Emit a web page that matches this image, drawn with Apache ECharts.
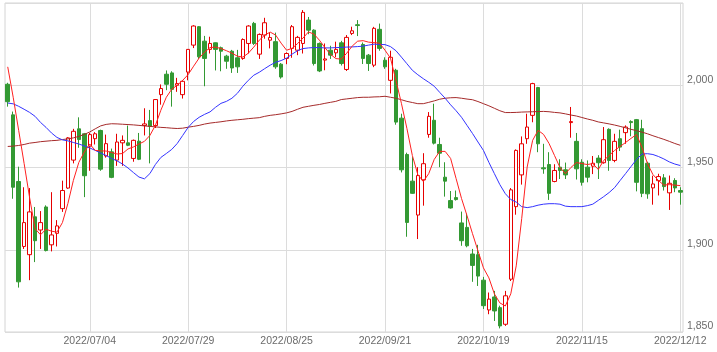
<!DOCTYPE html>
<html>
<head>
<meta charset="utf-8">
<script src="https://cdn.jsdelivr.net/npm/echarts@6/dist/echarts.min.js"></script>
<style>
html, body { margin: 0; padding: 0; background: #fff; }
#chart { width: 717px; height: 352px; }
</style>
</head>
<body>
<div id="chart"></div>
<script>
// trading days 2022/06/13 - 2022/12/12
const dates = [
  '2022/06/13','2022/06/14','2022/06/15','2022/06/16','2022/06/17','2022/06/20','2022/06/21','2022/06/22','2022/06/23','2022/06/24',
  '2022/06/27','2022/06/28','2022/06/29','2022/06/30','2022/07/01','2022/07/04','2022/07/05','2022/07/06','2022/07/07','2022/07/08',
  '2022/07/11','2022/07/12','2022/07/13','2022/07/14','2022/07/15','2022/07/19','2022/07/20','2022/07/21','2022/07/22','2022/07/25',
  '2022/07/26','2022/07/27','2022/07/28','2022/07/29','2022/08/01','2022/08/02','2022/08/03','2022/08/04','2022/08/05','2022/08/08',
  '2022/08/09','2022/08/10','2022/08/12','2022/08/15','2022/08/16','2022/08/17','2022/08/18','2022/08/19','2022/08/22','2022/08/23',
  '2022/08/24','2022/08/25','2022/08/26','2022/08/29','2022/08/30','2022/08/31','2022/09/01','2022/09/02','2022/09/05','2022/09/06',
  '2022/09/07','2022/09/08','2022/09/09','2022/09/12','2022/09/13','2022/09/14','2022/09/15','2022/09/16','2022/09/20','2022/09/21',
  '2022/09/22','2022/09/26','2022/09/27','2022/09/28','2022/09/29','2022/09/30','2022/10/03','2022/10/04','2022/10/05','2022/10/06',
  '2022/10/07','2022/10/11','2022/10/12','2022/10/13','2022/10/14','2022/10/17','2022/10/18','2022/10/19','2022/10/20','2022/10/21',
  '2022/10/24','2022/10/25','2022/10/26','2022/10/27','2022/10/28','2022/10/31','2022/11/01','2022/11/02','2022/11/04','2022/11/07',
  '2022/11/08','2022/11/09','2022/11/10','2022/11/11','2022/11/14','2022/11/15','2022/11/16','2022/11/17','2022/11/18','2022/11/21',
  '2022/11/22','2022/11/24','2022/11/25','2022/11/28','2022/11/29','2022/11/30','2022/12/01','2022/12/02','2022/12/05','2022/12/06',
  '2022/12/07','2022/12/08','2022/12/09','2022/12/12'
];

const opens = [
  2000.6,1982,1941.5,1902,1897,1920,1912,1926,1903,1910,
  1925,1937.5,1954.5,1973.5,1970.5,1963,1967.5,1972.5,1957,1959.5,
  1954.5,1965,1965,1955.5,1966,1975.5,1978.5,1975.5,1994.3,2006.7,
  2007.5,2000,1994.3,2008,2024.4,2035.6,2026.8,2021.8,2025.8,2022.8,
  2017.7,2020.7,2016.7,2016.3,2025.4,2037.6,2018.9,2030.5,2027.4,2026.5,
  2012.8,2016.3,2022.4,2021.3,2025.4,2039.6,2033.5,2025.4,2015.3,2021.3,
  2019.7,2025.8,2009.6,2031.5,2036.8,2024.8,2018.3,2012.2,2034,2015.2,
  2003,2009.1,1980,1957.9,1941.7,1921.1,1942.5,1970.1,1978.7,1964,
  1944.1,1929.9,1931.7,1916.3,1913.6,1897.4,1897,1881.5,1863.4,1871.3,
  1864.8,1854.7,1882.1,1926.2,1945.5,1967.5,1981.7,1998.6,1949.8,1951.8,
  1941.5,1950.2,1948.6,1977.3,1965.9,1953.2,1950.2,1950.8,1955.7,1952.9,
  1973.2,1954.3,1967.5,1971.2,1977.9,1979.1,1973.6,1952.6,1937.6,1942,
  1943.7,1934.6,1942.1,1936
];
const closes = [
  1990,1938,1880.5,1916.5,1923,1905.5,1916.5,1899.5,1909,1914.5,
  1936,1968,1972,1967,1945,1970,1970.5,1949,1964.5,1944,
  1965.5,1966.5,1963.5,1966.5,1955,1976.5,1975,1991.3,1998,2000.6,
  1997.5,2001,2002.4,2021.8,2036,2017.3,2016.3,2025.4,2021.8,2020.7,
  2014.6,2010.5,2011.2,2027.8,2036,2025.4,2030.9,2038,2029,2011.2,
  2005,2019.3,2035.6,2029.1,2044.3,2033.5,2013.2,2008.7,2016,2018.3,
  2021.8,2013.2,2029.1,2033.1,2036.3,2016.3,2013.2,2034.6,2022.4,2011.2,
  2017,1977.6,1948.6,1916.6,1934.3,1945.1,1952.3,1981.1,1964.8,1958.7,
  1941.7,1925.4,1930.5,1905.5,1902.4,1890.5,1884,1866,1870,1862.8,
  1853.7,1872,1936.4,1960.4,1964.4,1974.6,2001,1964.4,1949.2,1934.3,
  1948.2,1948.2,1945.5,1977.9,1949.2,1941,1944.1,1952.6,1952.9,1966.9,
  1954.3,1965.9,1962.4,1974.6,1977.3,1941,1934.3,1934,1940,1944.5,
  1938.4,1940.4,1937.6,1935
];
const lows = [
  1987,1931,1877,1900.5,1881.5,1892.5,1900.5,1899,1899,1902,
  1923,1937,1952.5,1962,1932,1948,1964,1948,1956,1943.5,
  1951,1951,1963,1953.5,1954.5,1969.5,1952.5,1974,1988.2,1997,
  1987,1996,1991.9,2003,2022.6,2016,1999.4,2019.3,2009,2008.5,
  2010,2007.5,2007.5,2015.5,2019.3,2024.5,2016,2028.3,2022.4,2010,
  2004,2012.8,2016.7,2018.3,2019.3,2031,2012,2008,2009.1,2016,
  2017,2012,2008.7,2030.5,2029.9,2012.9,2008.7,2011,2021,2010,
  1995,1976,1947,1907.9,1934,1906.5,1926.8,1968.1,1964,1950.2,
  1932.3,1925,1929.9,1902.4,1901.5,1880.5,1878,1864,1860.8,1856.7,
  1852.2,1853.7,1881,1921.3,1939.6,1964.4,1977.5,1959.3,1946.2,1930.3,
  1941,1943,1943,1968.1,1942.7,1939,1941,1946,1943,1952.3,
  1948,1953.2,1960,1964.4,1969,1935.5,1932,1931,1927.4,1933,
  1936,1924.2,1935,1927.4
];
const highs = [
  2001.5,1984,1950.5,1938,1937.5,1926,1923.5,1927,1935,1918,
  1942,1968.5,1973.5,1980.5,1971,1971,1971.5,1973,1970,1961.5,
  1970.5,1969.5,1975.5,1967,1971,1986,1985,1991.5,2000.5,2009,
  2008.5,2004.5,2003,2022,2036.5,2036,2030,2029.5,2026,2023.5,
  2018.5,2021.5,2021.5,2028.5,2036.5,2038.5,2031.5,2041,2032.3,2032,
  2013.5,2020,2036.6,2030,2045.7,2041.5,2034,2026,2025.4,2024,
  2026.5,2027,2030.5,2035.6,2039.6,2026,2019,2035.5,2037.5,2017,
  2021,2010,1982.7,1959,1956.3,1950.2,1958.7,1983.7,1988.8,1968.1,
  1953.2,1935.7,1936,1923.2,1922,1900.5,1903,1883.5,1874,1875,
  1866,1875,1937.5,1961,1968.9,1982.7,2001.5,1999,1964.4,1959.3,
  1952,1955,1953,1986.8,1971,1955,1954.3,1957,1957.5,1974.6,
  1973.8,1970.5,1973,1975.6,1978.7,1979.5,1979,1953.5,1945,1946.2,
  1946,1945.1,1943.5,1938
];

// moving averages
const ma5 = [
  2011.2,1992.7,1972.6,1952.4,1931.7,1912.8,1909.1,1912.5,1911.3,1910.7,
  1916.5,1928.1,1942.1,1953.1,1959.4,1964.3,1960.4,1960.1,1960,1959.1,
  1958.2,1958.5,1961.3,1962.5,1964.3,1965.9,1969.5,1975.6,1984.8,1992.7,
  1997.6,2000,2003,2006.5,2011.6,2016.5,2020.1,2022.9,2023.2,2022.3,
  2021,2019.5,2017.7,2017.1,2019.5,2023.2,2027.4,2030.5,2032.3,2030.5,
  2025.6,2021.3,2022.4,2025.3,2028.7,2032.4,2031.1,2027.4,2022.9,2018.9,
  2016.2,2015.9,2019.5,2023.8,2026.8,2027.1,2026.2,2025.9,2025.6,2021.3,
  2016.5,2003,1989,1973.8,1957.3,1945.7,1941.5,1946.3,1954.9,1959.8,
  1959.8,1955.5,1943.3,1931.1,1920.7,1909.8,1899.4,1889,1882.9,1873.2,
  1867.7,1865.8,1873.2,1890.2,1918.9,1950.3,1966.5,1972.6,1970.1,1964.6,
  1957.3,1950,1946.3,1950,1953,1952.4,1951.8,1952.4,1948.8,1954.3,
  1957.3,1960.4,1962.8,1965.2,1967.7,1970.1,1962.2,1952.4,1945.7,1942.1,
  1939.3,1939.6,1939.3,1939
];
const ma25 = [
  1989.2,1988.7,1987.2,1985.4,1983.5,1981.1,1977.4,1974.4,1971,1968.3,
  1966.8,1966.2,1965.2,1964.3,1963.1,1961.9,1960.4,1958.8,1957.3,1955.5,
  1954,1952.1,1949.7,1946.9,1944.2,1943.1,1946.3,1951.8,1956.1,1958.5,
  1961,1964.6,1969.5,1974.4,1978,1980.5,1982.3,1983.8,1986.6,1989,
  1990.2,1992.1,1995.1,1999.4,2003,2006.1,2007.9,2010.1,2012.2,2014,
  2015,2016.5,2018.9,2021,2022.3,2022.7,2022.9,2022.9,2022.7,2022.7,
  2022.9,2023,2023.2,2023.3,2023.5,2023.8,2024.4,2025,2024.8,2024.7,
  2023.5,2021,2017.1,2013.1,2009.1,2006.4,2004,2001.8,1999.4,1995.7,
  1992.1,1988.1,1984.5,1980.5,1975.6,1970.7,1965.5,1960.4,1953.1,1946.3,
  1939.6,1934.1,1930.5,1929,1926.2,1925.6,1926.2,1927.1,1927.7,1928,
  1928,1927.7,1926.5,1926.2,1926.2,1926.2,1926.8,1927.7,1930,1932.3,
  1934.8,1937.8,1942.1,1946.3,1950.6,1954.9,1958.2,1958.4,1957.9,1956.7,
  1955.2,1953.4,1952.1,1951.2
];
const ma75 = [
  1962.8,1963,1963.4,1964,1964.8,1965.2,1965.7,1966,1966.3,1966.5,
  1967,1967.4,1968,1968.9,1970.1,1971.6,1973.5,1975.3,1976.2,1976.6,
  1976.5,1976.3,1976.1,1975.9,1975.6,1975.3,1975,1974.7,1974.4,1974.2,
  1973.9,1973.7,1973.9,1974.5,1975,1975.6,1976.4,1977,1977.4,1977.8,
  1978.3,1978.7,1979,1979.3,1979.7,1980,1980.3,1981.1,1981.7,1982.1,
  1982.6,1983.2,1984.1,1985.4,1986.6,1987.2,1987.8,1988.3,1989,1989.6,
  1990.2,1991.3,1991.7,1992.1,1992.5,1992.7,1992.7,1992.9,1993,1993.3,
  1992.7,1992.1,1991.2,1990.2,1989.5,1988.8,1988.8,1989.6,1990.5,1991.5,
  1992.1,1992.4,1992.5,1992.1,1991.6,1991.2,1990.1,1988.8,1987.5,1986,
  1984.5,1983.4,1983.4,1983.5,1983.7,1983.8,1983.9,1984,1984.1,1983.9,
  1983.5,1983.2,1982.6,1981.9,1981.3,1980.4,1979.5,1978.7,1977.7,1977.1,
  1976.5,1975.8,1975,1974.1,1973.2,1972.4,1971.5,1970.5,1969.3,1968.2,
  1967.1,1965.9,1964.6,1963.5
];

// echarts candlestick wants [open, close, low, high]
const kData = dates.map((d, i) => [opens[i], closes[i], lows[i], highs[i]])

// a label (and grid line) every 18 trading days, starting at 07/04
const labelAt = (idx) => idx >= 15 && (idx - 15) % 18 === 0

const chart = echarts.init(document.getElementById('chart'))
chart.setOption({
    animation: false,
    grid: {
        left: 5, right: 34, top: 3, bottom: 20,
        show: true, borderColor: '#d4d4d4', borderWidth: 1
    },
    xAxis: {
        type: 'category',
        data: dates,
        axisLine: { show: false },
        axisTick: { show: false },
        axisLabel: {
            interval: labelAt,
            color: '#6b6b6b',
            fontSize: 10.5,
            fontFamily: 'Liberation Sans',
            margin: 4
        },
        splitLine: {
            show: true,
            interval: labelAt,
            alignWithLabel: true,
            lineStyle: { color: '#dcdcdc' }
        }
    },
    yAxis: {
        type: 'value',
        position: 'right',
        min: 1850, max: 2050, interval: 50,
        axisLine: { show: false },
        axisTick: { show: false },
        axisLabel: {
            showMaxLabel: false,
            verticalAlign: 'bottom',
            margin: 4,
            color: '#6b6b6b',
            fontSize: 10.5,
            fontFamily: 'Liberation Sans',
            formatter: (v) => String(v).replace(/\B(?=(\d{3})+(?!\d))/g, ',')
        },
        splitLine: { lineStyle: { color: '#dcdcdc' } }
    },
    series: [
        {
            type: 'candlestick',
            data: kData,
            barWidth: 4,
            itemStyle: {
                color: '#ffffff',       // up: hollow
                color0: '#339933',      // down: green
                borderColor: '#e60000',
                borderColor0: '#339933',
                borderWidth: 1
            }
        },
        { type: 'line', data: ma75, symbol: 'none', lineStyle: { color: '#a52a2a', width: 1 } },
        { type: 'line', data: ma25, symbol: 'none', lineStyle: { color: '#3333ff', width: 1 } },
        { type: 'line', data: ma5, symbol: 'none', lineStyle: { color: '#ff2020', width: 1 } }
    ]
})
</script>
</body>
</html>
